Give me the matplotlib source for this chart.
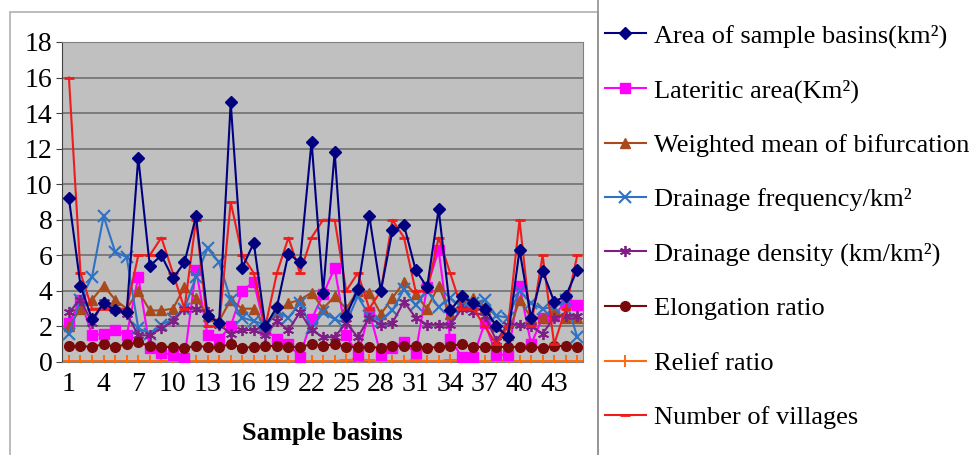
import numpy as np
import matplotlib.pyplot as plt
from matplotlib.patches import Rectangle

# values
basins = np.arange(1, 46)
area = [9.2, 4.3, 2.4, 3.3, 2.9, 2.8, 11.5, 5.4, 6.0, 4.7,
        5.6, 8.2, 2.6, 2.2, 14.6, 5.3, 6.7, 2.0, 3.1, 6.1,
        5.6, 12.4, 3.9, 11.8, 2.6, 4.1, 8.2, 4.0, 7.4, 7.7,
        5.2, 4.2, 8.6, 2.9, 3.7, 3.3, 3.0, 2.0, 1.4, 6.3,
        2.5, 5.1, 3.4, 3.7, 5.2]
lateritic = [2.2, 3.5, 1.5, 1.6, 1.8, 1.5, 4.8, 0.8, 0.5, 0.4,
             0.2, 5.2, 1.5, 1.3, 2.0, 4.0, 4.5, 1.8, 1.3, 1.0,
             0.3, 2.4, 3.8, 5.3, 1.5, 0.4, 2.8, 0.4, 0.8, 1.1,
             0.5, 4.2, 6.3, 1.3, 0.3, 0.3, 2.2, 0.4, 0.4, 4.3,
             1.0, 2.5, 2.6, 3.4, 3.2]
bifurcation = [2.0, 3.0, 3.5, 4.3, 3.5, 3.0, 4.0, 2.9, 2.9, 3.0,
               4.2, 3.6, 2.6, 2.3, 3.5, 3.0, 3.0, 2.0, 2.8, 3.3,
               3.5, 3.9, 3.0, 3.7, 3.0, 4.0, 3.9, 2.7, 3.6, 4.5,
               3.8, 3.0, 4.3, 2.7, 3.3, 3.6, 3.1, 2.0, 1.5, 3.5,
               2.5, 2.5, 2.8, 2.5, 2.5]
frequency = [1.6, 3.5, 4.8, 8.2, 6.2, 5.9, 1.9, 1.6, 2.1, 2.4,
             3.0, 4.8, 6.4, 5.6, 3.5, 2.5, 2.3, 2.1, 2.8, 2.5,
             3.3, 1.9, 2.8, 2.4, 2.2, 3.7, 2.6, 2.3, 2.9, 4.1,
             3.2, 4.0, 3.1, 3.6, 3.1, 3.3, 3.5, 2.6, 2.5, 4.0,
             3.3, 3.0, 3.1, 3.5, 1.4]
density = [2.8, 3.5, 2.2, 3.4, 2.9, 2.7, 1.5, 1.5, 1.9, 2.3,
           3.0, 3.0, 2.8, 2.1, 1.6, 1.8, 1.8, 1.5, 2.3, 1.8,
           2.8, 1.8, 1.4, 1.4, 2.2, 1.4, 2.5, 2.1, 2.2, 3.4,
           2.5, 2.1, 2.1, 2.1, 3.0, 2.8, 2.6, 1.2, 2.1, 2.1,
           2.0, 1.6, 2.5, 2.6, 2.6]
elongation = [0.9, 0.9, 0.85, 1.0, 0.85, 1.0, 1.1, 0.9, 0.85, 0.85,
              0.8, 0.9, 0.85, 0.85, 1.0, 0.8, 0.85, 0.9, 0.9, 0.85,
              0.85, 1.0, 0.9, 1.0, 0.85, 0.85, 0.85, 0.8, 0.9, 0.9,
              0.9, 0.8, 0.85, 0.9, 1.0, 0.85, 0.85, 0.85, 0.85, 0.85,
              0.85, 0.8, 0.9, 0.9, 0.85]
relief = [0.05, 0.05, 0.05, 0.05, 0.05, 0.05, 0.05, 0.05, 0.05, 0.05,
          0.05, 0.05, 0.05, 0.05, 0.05, 0.05, 0.05, 0.05, 0.05, 0.05,
          0.05, 0.05, 0.05, 0.05, 0.1, 0.15, 0.1, 0.05, 0.05, 0.05,
          0.1, 0.05, 0.05, 0.1, 0.1, 0.05, 0.05, 0.05, 0.05, 0.05,
          0.05, 0.05, 0.05, 0.05, 0.05]
villages = [16, 5, 3, 3, 3, 3, 6, 6, 7, 5,
            3, 8, 2, 2, 9, 6, 5, 2, 5, 7,
            5, 7, 8, 8, 4, 5, 3, 4, 8, 7,
            4, 4, 7, 5, 3, 3, 2, 1, 2, 8,
            2, 6, 1, 3, 6]
xticks = [1, 4, 7, 10, 13, 16, 19, 22, 25, 28, 31, 34, 37, 40, 43]

plt.rcParams['font.family'] = ['Liberation Serif', 'DejaVu Serif']

fig = plt.figure(figsize=(9.75, 4.55), dpi=100)
ax = fig.add_axes([0.0636, 0.2044, 0.5344, 0.7033])
ax.set_facecolor('#c0c0c0')

lw = 1.5
ax.plot(basins, area, color='#000080', lw=lw, marker='D', ms=6.5,
        label='Area of sample basins(km²)', zorder=9)
ax.plot(basins, lateritic, color='#ff00ff', lw=lw, marker='s', ms=6.5,
        label='Lateritic area(Km²)', zorder=4)
ax.plot(basins, bifurcation, color='#a84a1c', lw=lw, marker='^', ms=7.5,
        label='Weighted mean of bifurcation', zorder=5)
ax.plot(basins, frequency, color='#2f72c4', lw=lw, marker='x', ms=8, mew=1.5,
        label='Drainage frequency/km²', zorder=6)
ax.plot(basins, density, color='#7f1f86', lw=lw, marker=(6, 2, 0), ms=8, mew=1.3,
        label='Drainage density (km/km²)', zorder=7)
ax.plot(basins, elongation, color='#7a0a0a', lw=lw, marker='o', ms=7,
        label='Elongation ratio', zorder=8)
ax.plot(basins, relief, color='#ff6a10', lw=lw, marker='+', ms=8, mew=1.4,
        label='Relief ratio', zorder=3)
ax.plot(basins, villages, color='#ee1c1c', lw=lw, marker='_', ms=7, mew=2,
        label='Number of villages', zorder=8.5)

ax.set_xlim(0.4, 45.5)
ax.set_ylim(0, 18)
ax.set_yticks(range(0, 19, 2))
ax.set_xticks(xticks)
ax.tick_params(axis='both', labelsize=20, length=4, color='#404040')
ax.tick_params(axis='y', pad=3)
ax.tick_params(axis='x', length=0, pad=7)
ax.grid(axis='y', color='#707070', lw=1.2)
ax.set_axisbelow(True)
for side in ['top', 'right', 'bottom']:
    ax.spines[side].set_color('#808080')
ax.spines['left'].set_color('#404040')
ax.set_xlabel('Sample basins', fontsize=19, fontweight='bold', labelpad=18)

# outer chart frame and legend box
fig.patches.append(Rectangle((10 / 975, -0.01), 588 / 975, 1 - 12 / 455 + 0.01,
                             transform=fig.transFigure, fill=False,
                             ec='#b0b0b0', lw=1.2))
fig.patches.append(Rectangle((598 / 975, -0.01), 0.5, 1.02,
                             transform=fig.transFigure, fill=False,
                             ec='#909090', lw=1.2))

leg = fig.legend(loc='upper left', bbox_to_anchor=(605 / 975, 1 - 24 / 455),
                 fontsize=19, frameon=False, labelspacing=1.17,
                 handlelength=1.55, handletextpad=0.3,
                 borderpad=0, borderaxespad=0)

fig.savefig('out.png', dpi=100)
